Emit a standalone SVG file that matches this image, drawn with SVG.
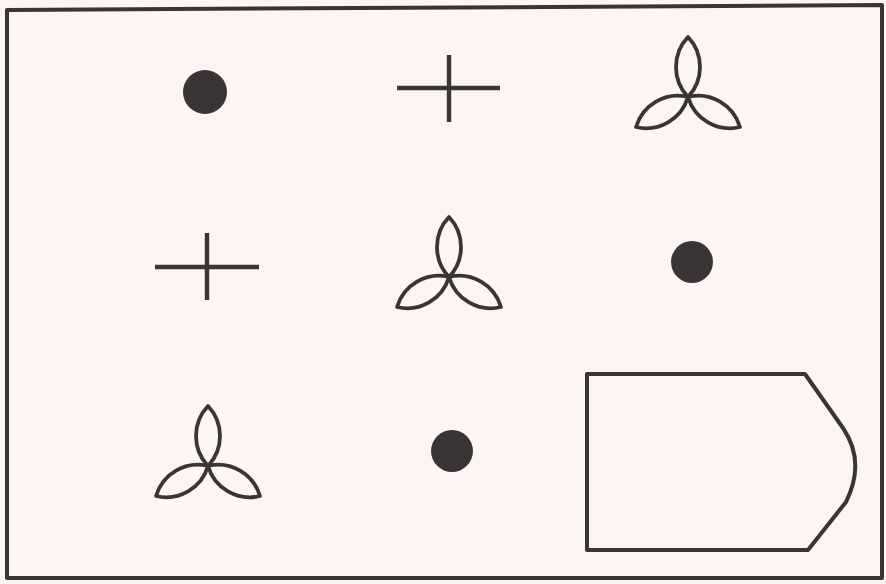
<svg xmlns="http://www.w3.org/2000/svg" xmlns:xlink="http://www.w3.org/1999/xlink" width="886" height="584" viewBox="0 0 886 584">
<style>
.ln{fill:none;stroke:#3b3435;stroke-width:4;stroke-linejoin:round;stroke-linecap:butt}
.cr{fill:none;stroke:#3b3435;stroke-width:4.4}
.dot{fill:#3b3435}
.tre{fill:none;stroke:#3b3435;stroke-width:3.8;stroke-linejoin:round}
</style>
<defs>
<g id="trefoil">
<path id="petal" d="M0,0 A43.5,43.5 0 0 1 0,-60 A43.5,43.5 0 0 1 0,0 Z"/>
<use xlink:href="#petal" transform="rotate(120)"/>
<use xlink:href="#petal" transform="rotate(240)"/>
</g>
</defs>
<rect width="886" height="584" fill="#fcf5f2"/>
<g id="frame"><path class="ln" d="M7,10 L882,5 L882,578 L7,578 Z"/></g>
<g id="dot1"><circle class="dot" cx="205" cy="92" r="22"/></g>
<g id="cross1"><path class="cr" d="M397,88 H500 M449,55 V122"/></g>
<g id="trefoil1"><g class="tre" transform="translate(688,97)"><use xlink:href="#trefoil"/></g></g>
<g id="cross2"><path class="cr" d="M155,267 H259 M207,233 V300"/></g>
<g id="trefoil2"><g class="tre" transform="translate(449,277)"><use xlink:href="#trefoil"/></g></g>
<g id="dot2"><circle class="dot" cx="692" cy="262" r="21"/></g>
<g id="trefoil3"><g class="tre" transform="translate(208,466)"><use xlink:href="#trefoil"/></g></g>
<g id="dot3"><circle class="dot" cx="452" cy="451" r="21"/></g>
<g id="answer"><path class="ln" d="M587,374 H805 L843,428 Q866,462 846,502 L808,550 H587 Z"/></g>
<g id="connectors"/>
</svg>
